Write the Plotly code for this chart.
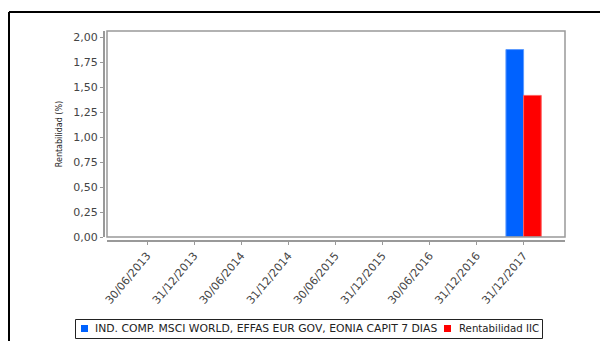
import plotly.graph_objects as go

# Data
fechas = ["30/06/2013", "31/12/2013", "30/06/2014", "31/12/2014", "30/06/2015",
          "31/12/2015", "30/06/2016", "31/12/2016", "31/12/2017"]
indice = [None, None, None, None, None, None, None, None, 1.88]
rentabilidad_iic = [None, None, None, None, None, None, None, None, 1.42]
series_names = ["IND. COMP. MSCI WORLD, EFFAS EUR GOV, EONIA CAPIT 7 DIAS",
                "Rentabilidad IIC"]
series_colors = ["#0062FF", "#FF0000"]
y_ticks = [0, 0.25, 0.5, 0.75, 1.0, 1.25, 1.5, 1.75, 2.0]

W, H = 600, 341

# Pixel -> paper helpers (zero margins, so paper covers the whole figure)
def fx(p):
    return p / W

def fy(p):
    return (H - p) / H

fig = go.Figure()
for values, name, color, edge in zip([indice, rentabilidad_iic], series_names,
                                     series_colors, ["#5C9BFF", "#FF6060"]):
    fig.add_trace(go.Bar(
        x=fechas, y=values, name=name,
        marker=dict(color=color, line=dict(color=edge, width=1)),
    ))

tick_font = dict(family="DejaVu Sans", size=11, color="#444444")

fig.update_layout(
    width=W, height=H,
    margin=dict(l=0, r=0, t=0, b=0, pad=0, autoexpand=False),
    paper_bgcolor="white", plot_bgcolor="white",
    barmode="group", bargap=0.25, bargroupgap=0,
    separators=",.",
    showlegend=False,
    xaxis=dict(
        domain=[fx(107), fx(565)],
        anchor="free", position=fy(241), automargin=False,
        type="category", range=[-0.85, 8.88],
        showline=True, linecolor="#999999", linewidth=2,
        ticks="outside", ticklen=3, tickcolor="#999999", tickwidth=1,
        tickangle=-50, tickfont=tick_font,
        showgrid=False, zeroline=False, fixedrange=True,
    ),
    yaxis=dict(
        domain=[fy(237), fy(31)],
        anchor="free", position=fx(104), automargin=False,
        range=[0, 2.066],
        tickvals=y_ticks, tickformat=".2f",
        showline=True, linecolor="#999999", linewidth=2,
        ticks="outside", ticklen=3, tickcolor="#999999", tickwidth=1,
        tickfont=tick_font,
        showgrid=False, zeroline=False,
        title=dict(text="Rentabilidad (%)", standoff=8,
                   font=dict(family="DejaVu Sans", size=8, color="#222222")),
    ),
)

# Plot area frame
fig.add_shape(type="rect", xref="x domain", yref="y domain",
              x0=0, x1=1, y0=0, y1=1,
              line=dict(color="#999999", width=1.5), layer="above")

# Outer chart border (top and left edges)
fig.add_shape(type="line", xref="paper", yref="paper",
              x0=fx(9), x1=fx(W + 2), y0=fy(12), y1=fy(12),
              line=dict(color="black", width=2))
fig.add_shape(type="line", xref="paper", yref="paper",
              x0=fx(9), x1=fx(9), y0=fy(12), y1=fy(H + 2),
              line=dict(color="black", width=2))

# Legend: framed row with a colour swatch before each series name
fig.add_shape(type="rect", xref="paper", yref="paper",
              x0=fx(75.5), x1=fx(542.5), y0=fy(319.5), y1=fy(338.5),
              line=dict(color="#222222", width=1), fillcolor="white")
legend_pos = [(81, 92.5, 10.8), (444, 456.5, 10.2)]
for (sx, tx, fs), name, color in zip(legend_pos, series_names, series_colors):
    fig.add_shape(type="rect", xref="paper", yref="paper",
                  x0=fx(sx), x1=fx(sx + 7), y0=fy(325), y1=fy(332),
                  line=dict(width=0), fillcolor=color)
    fig.add_annotation(xref="paper", yref="paper", x=fx(tx), y=fy(328.7),
                       xanchor="left", yanchor="middle", showarrow=False,
                       text=name,
                       font=dict(family="DejaVu Sans", size=fs, color="#222222"))

fig.write_html("out.html")
